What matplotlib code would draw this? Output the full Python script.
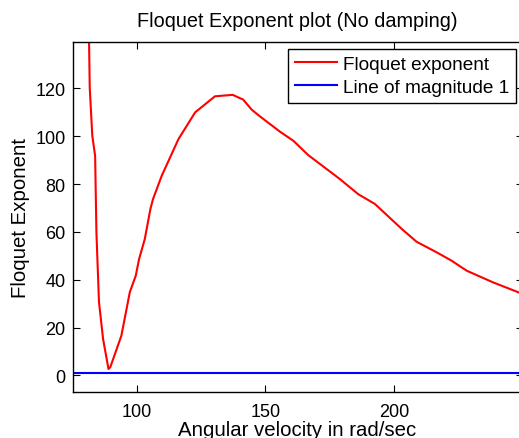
import numpy as np
from matplotlib import pyplot as plt

# angular velocity (rad/sec) and floquet exponent
omega = [81.3, 81.7, 82.7, 83.8, 84.3, 85.3, 86.9, 89.0, 89.7, 94.0,
         97.3, 99.6, 100.9, 103.1, 105.3, 106.3, 109.7, 116.2, 122.7, 130.4,
         137.3, 141.4, 144.7, 147.9, 155.7, 160.9, 166.7, 179.0, 186.1, 192.6,
         203.0, 208.8, 216.6, 222.4, 228.3, 238.6, 248.6, 250.0]
floquet = [150.0, 120.4, 100.2, 91.8, 59.9, 30.7, 15.2, 2.7, 3.5, 16.6,
           34.9, 41.7, 48.7, 57.0, 69.6, 73.7, 83.5, 98.8, 110.0, 116.7,
           117.3, 115.3, 111.1, 108.3, 101.9, 98.1, 92.1, 82.1, 75.8, 71.7,
           61.3, 55.9, 51.5, 48.0, 43.8, 38.9, 34.7, 34.2]
magnitude_one = [1.0, 1.0]
x_limits = [75, 250]
y_limits = [-6.9, 139.4]
x_ticks = [100, 150, 200]
y_ticks = [0, 20, 40, 60, 80, 100, 120]

plt.rcParams['font.family'] = ['Liberation Sans', 'DejaVu Sans']
plt.rcParams['font.size'] = 13

W, H = 519, 439
fig = plt.figure(figsize=(W / 100, H / 100), dpi=100)
# axes run slightly past the right edge of the picture, as in the original
ax = fig.add_axes([72.5 / W, 46 / H, 450 / W, 350 / H])

ax.plot(omega, floquet, color=(1, 0, 0), linewidth=1.5,
        label="Floquet exponent")
ax.plot(x_limits, magnitude_one, color=(0, 0, 1), linewidth=1.5,
        label="Line of magnitude 1")

ax.set_xlim(x_limits)
ax.set_ylim(y_limits)
ax.set_xticks(x_ticks)
ax.set_yticks(y_ticks)
ax.tick_params(direction="in", length=5, width=0.8, top=True, right=True,
               labelsize=13, pad=5)
ax.tick_params(axis="x", pad=8)
for spine in ax.spines.values():
    spine.set_linewidth(1.0)

ax.set_title("Floquet Exponent plot (No damping)", fontsize=14.3, pad=11.5)
ax.set_xlabel("Angular velocity in rad/sec", fontsize=14.7, labelpad=0)
ax.set_ylabel("Floquet Exponent", fontsize=14.7)
ax.yaxis.set_label_coords(-0.094, 0.5)

leg = ax.legend(loc="upper right", bbox_to_anchor=(515.5 / W, 1 - 50 / H),
                bbox_transform=fig.transFigure, borderaxespad=0,
                fancybox=False, framealpha=1, edgecolor="black",
                handlelength=2.2, handletextpad=0.3, borderpad=0.35,
                labelspacing=0.3, fontsize=13.7)
leg.get_frame().set_linewidth(1.0)

fig.savefig("out.png", dpi=100)
